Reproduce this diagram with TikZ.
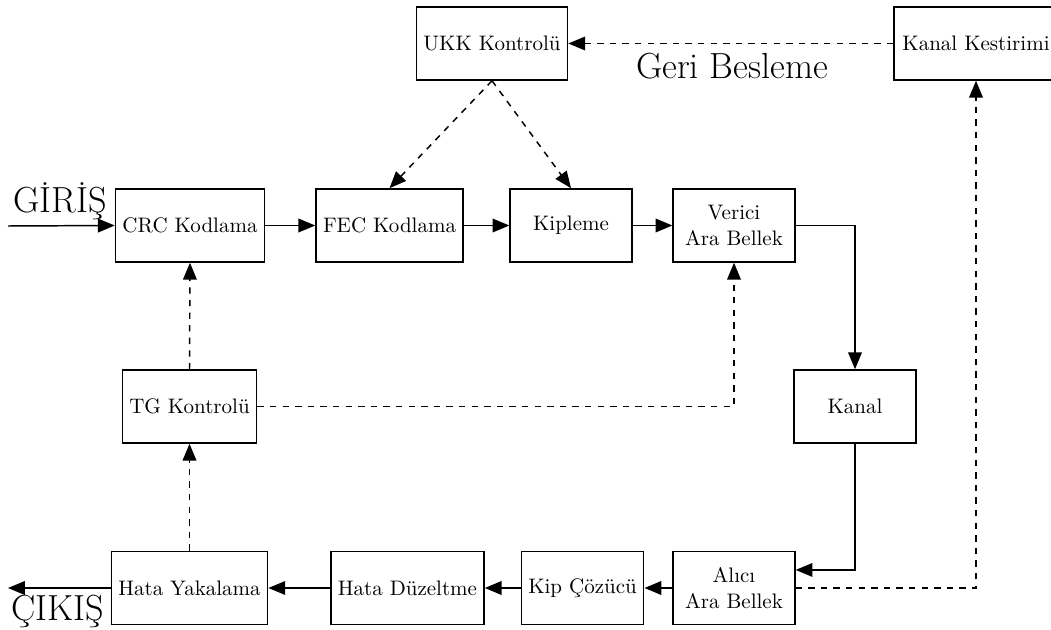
\documentclass[tikz,border=0pt]{standalone}
\usepackage{fontspec}
\usetikzlibrary{arrows.meta}
\begin{document}
\begin{tikzpicture}[x={(0.4762pt,0pt)},y={(0pt,-0.4762pt)},
  blk/.style={draw,line width=0.7pt,minimum width=58pt,minimum height=34.8pt,align=center,font=\fontsize{10}{12}\selectfont},
  conn/.style={line width=0.7pt,-{Triangle[length=8pt,width=6.5pt]}},
  fb/.style={conn,dashed},
  big/.style={font=\fontsize{17.28}{21}\selectfont,inner sep=0pt}]
\useasboundingbox (0,0) rectangle (1051,630);
% nodes
\node[blk] (ukk) at (492,43.5) {UKK Kontrolü};
\node[blk,minimum width=78pt] (kk) at (976,43.5) {Kanal Kestirimi};
\node[blk] (crc) at (190,225.5) {CRC Kodlama};
\node[blk] (fec) at (389.5,225.5) {FEC Kodlama};
\node[blk] (kip) at (571,225.5) {Kipleme};
\node[blk] (ver) at (734,225.5) {Verici\\Ara Bellek};
\node[blk] (tg) at (189.5,406.5) {TG Kontrolü};
\node[blk] (kanal) at (855,406.5) {Kanal};
\node[blk] (hy) at (189.5,588) {Hata Yakalama};
\node[blk] (hd) at (407.5,588) {Hata Düzeltme};
\node[blk] (kc) at (582.5,588) {Kip Çözücü};
\node[blk] (alici) at (734,588) {Alıcı\\Ara Bellek};
% labels
\node[big] (giris) at (60,201) {GİRİŞ};
\node[big] (cikis) at (58,611) {ÇIKIŞ};
\node[big] (geri) at (732,66) {Geri Besleme};
\coordinate (in) at (8,226);
\coordinate (out) at (8,588);
% main path
\draw[conn] (in) -- (crc.west);
\draw[conn] (crc) -- (fec);
\draw[conn] (fec) -- (kip);
\draw[conn] (kip) -- (ver);
\draw[conn] (ver.east) -| (kanal.north);
\draw[conn] (kanal.south) |- ([yshift=8.6pt]alici.east);
\draw[conn] (alici) -- (kc);
\draw[conn] (kc) -- (hd);
\draw[conn] (hd) -- (hy);
\draw[conn] (hy.west) -- (out);
% feedback
\draw[fb] (alici.east) -| (kk.south);
\draw[fb] (kk.west) -- (ukk.east);
\draw[fb] (ukk.south) -- (fec.north);
\draw[fb] (ukk.south) -- (kip.north);
\draw[fb] (hy.north) -- (tg.south);
\draw[fb] (tg.north) -- (crc.south);
\draw[fb] (tg.east) -| (ver.south);
\end{tikzpicture}
\end{document}
